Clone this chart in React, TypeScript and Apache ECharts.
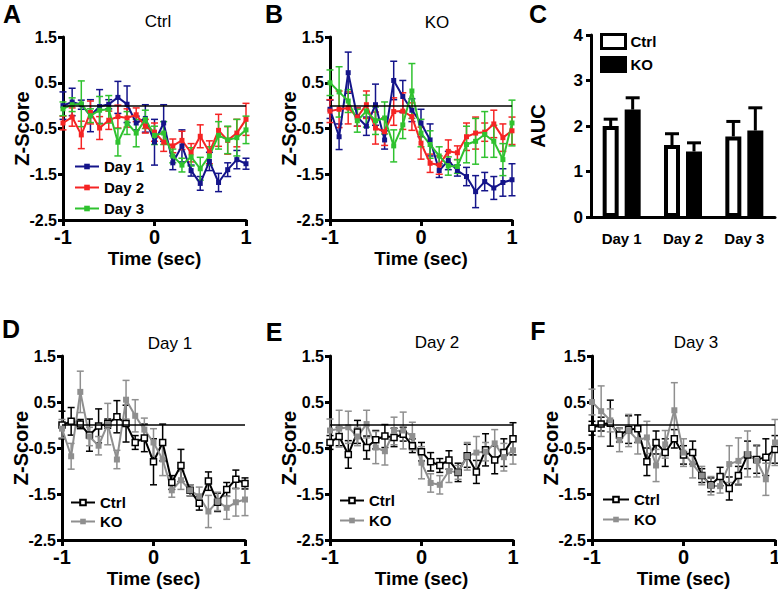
import React, { useEffect, useRef } from "react";
import * as echarts from "echarts";

const TIME = [-1, -0.9, -0.8, -0.7, -0.6, -0.5, -0.4, -0.3, -0.2, -0.1, 0, 0.1, 0.2, 0.3, 0.4, 0.5, 0.6, 0.7, 0.8, 0.9, 1];
const Y_TICKS = [-2.5, -1.5, -0.5, 0.5, 1.5];
const DAYS = ["Day 1", "Day 2", "Day 3"];

const CTRL_DAY1 = [0.0, 0.08, 0.02, -0.22, -0.02, 0.03, 0.18, 0.03, -0.38, -0.28, -0.8, -0.38, -1.25, -0.88, -1.42, -1.7, -1.22, -1.68, -1.4, -1.18, -1.27];
const CTRL_DAY1_ERR = [0.3, 0.3, 0.1, 0.35, 0.37, 0.1, 0.35, 0.4, 0.15, 0.3, 0.5, 0.4, 0.15, 0.35, 0.12, 0.15, 0.2, 0.2, 0.15, 0.2, 0.12];
const KO_DAY1 = [-0.08, -0.68, 0.72, -0.25, -0.45, 0.02, -0.75, 0.55, 0.2, -0.1, -0.38, -0.75, -1.42, -1.2, -1.42, -1.55, -1.88, -1.66, -1.8, -1.68, -1.62];
const KO_DAY1_ERR = [0.2, 0.28, 0.45, 0.2, 0.2, 0.45, 0.2, 0.42, 0.35, 0.25, 0.3, 0.35, 0.15, 0.2, 0.12, 0.2, 0.35, 0.2, 0.25, 0.3, 0.35];
const CTRL_DAY2 = [-0.38, -0.25, -0.64, -0.15, -0.49, -0.32, -0.24, -0.27, -0.2, -0.45, -0.58, -0.8, -0.88, -0.76, -1.03, -0.67, -1.02, -0.54, -0.76, -0.6, -0.3];
const CTRL_DAY2_ERR = [0.15, 0.2, 0.3, 0.25, 0.25, 0.2, 0.25, 0.2, 0.15, 0.15, 0.2, 0.2, 0.15, 0.2, 0.2, 0.25, 0.25, 0.35, 0.3, 0.3, 0.35];
const KO_DAY2 = [-0.12, -0.08, -0.05, -0.25, 0.02, -0.49, -0.57, -0.13, -0.12, -0.24, -0.82, -1.26, -1.3, -1.0, -1.03, -0.68, -0.6, -0.58, -0.4, -0.7, -0.55];
const KO_DAY2_ERR = [0.25, 0.4, 0.35, 0.2, 0.3, 0.35, 0.3, 0.3, 0.4, 0.3, 0.35, 0.2, 0.2, 0.25, 0.15, 0.3, 0.35, 0.2, 0.3, 0.3, 0.3];
const CTRL_DAY3 = [-0.07, 0.02, 0.04, -0.22, -0.1, -0.08, -0.8, -0.38, -0.6, -0.3, -0.65, -0.6, -1.1, -1.3, -1.12, -1.38, -1.1, -0.65, -0.75, -0.7, -0.53];
const CTRL_DAY3_ERR = [0.15, 0.15, 0.5, 0.15, 0.3, 0.3, 0.3, 0.25, 0.3, 0.2, 0.2, 0.25, 0.15, 0.15, 0.2, 0.25, 0.2, 0.3, 0.3, 0.4, 0.3];
const KO_DAY3 = [0.5, 0.3, 0.1, -0.33, -0.12, -0.33, -0.27, -0.88, -0.42, 0.32, -0.6, -0.85, -1.1, -1.32, -1.33, -0.85, -0.78, -0.63, -0.78, -1.18, -0.38];
const KO_DAY3_ERR = [0.28, 0.55, 0.25, 0.25, 0.35, 0.3, 0.35, 0.35, 0.3, 0.6, 0.3, 0.3, 0.2, 0.2, 0.15, 0.4, 0.5, 0.5, 0.35, 0.35, 0.5];

const AUC_CTRL = [2.0, 1.58, 1.77];
const AUC_CTRL_ERR = [0.15, 0.25, 0.33];
const AUC_KO = [2.36, 1.44, 1.9];
const AUC_KO_ERR = [0.26, 0.19, 0.5];

const BLUE = "#14148a";
const RED = "#f52424";
const GREEN = "#2fc22f";
const GRAY = "#8f8f8f";
const FONT = "Liberation Sans";

function zX(gi: number) {
  return {
    type: "value", gridIndex: gi, min: -1, max: 1, interval: 1,
    name: "Time (sec)", nameLocation: "middle", nameGap: 29, nameMoveOverlap: false,
    nameTextStyle: { fontSize: 19, fontWeight: "bold", color: "#000", fontFamily: FONT },
    axisLine: { show: true, onZero: false, lineStyle: { color: "#000", width: 3 } },
    axisTick: { show: true, length: 6, lineStyle: { color: "#000", width: 3 } },
    axisLabel: { fontSize: 20, fontWeight: "bold", color: "#000", margin: 7, fontFamily: FONT },
    splitLine: { show: false },
  };
}
function zY(gi: number) {
  return {
    type: "value", gridIndex: gi, min: -2.5, max: 1.5,
    name: "Z-Score", nameLocation: "middle", nameGap: 31, nameMoveOverlap: false,
    nameTextStyle: { fontSize: 20, fontWeight: "bold", color: "#000", fontFamily: FONT },
    axisLine: { show: true, onZero: false, lineStyle: { color: "#000", width: 3 } },
    axisTick: { show: true, customValues: Y_TICKS, length: 5, lineStyle: { color: "#000", width: 3 } },
    axisLabel: { customValues: Y_TICKS, fontSize: 16, fontWeight: "bold", color: "#000", margin: 6, fontFamily: FONT },
    splitLine: { show: false },
  };
}

function errSeries(gi: number, vals: number[], errs: number[], color: string) {
  return {
    type: "custom", xAxisIndex: gi, yAxisIndex: gi, silent: true,
    data: TIME.map((t, i) => [t, vals[i], errs[i]]),
    encode: { x: 0, y: 1 },
    renderItem: (_p: any, api: any) => {
      const x = api.value(0), y = api.value(1), e = api.value(2);
      const top = api.coord([x, y + e]);
      const bot = api.coord([x, y - e]);
      const w = 3.5;
      const st = { stroke: color, lineWidth: 1.5 };
      return {
        type: "group",
        children: [
          { type: "line", shape: { x1: top[0], y1: top[1], x2: bot[0], y2: bot[1] }, style: st },
          { type: "line", shape: { x1: top[0] - w, y1: top[1], x2: top[0] + w, y2: top[1] }, style: st },
          { type: "line", shape: { x1: bot[0] - w, y1: bot[1], x2: bot[0] + w, y2: bot[1] }, style: st },
        ],
      };
    },
  };
}

function lineSeries(name: string, gi: number, vals: number[], color: string, fill: string, zero: boolean, size = 5) {
  const s: any = {
    type: "line", name, xAxisIndex: gi, yAxisIndex: gi,
    data: TIME.map((t, i) => [t, vals[i]]),
    symbol: "rect", symbolSize: size,
    lineStyle: { color, width: 2 },
    itemStyle: { color: fill, borderColor: color, borderWidth: fill === color ? 0 : 1.5 },
    emphasis: { disabled: true },
  };
  if (zero) {
    s.markLine = {
      silent: true, symbol: ["none", "none"], label: { show: false },
      lineStyle: { color: "#000", width: 1.5, type: "solid" },
      data: [{ yAxis: 0 }],
    };
  }
  return s;
}

function barErr(vals: number[], errs: number[], side: number) {
  return {
    type: "custom", xAxisIndex: 2, yAxisIndex: 2, silent: true,
    data: DAYS.map((_d, i) => [i, vals[i], errs[i]]),
    encode: { x: 0, y: 1 },
    renderItem: (_p: any, api: any) => {
      const i = api.value(0), v = api.value(1), e = api.value(2);
      const a = api.coord([i, v]);
      const b = api.coord([i, v + e]);
      const off = side * 11;
      const st = { stroke: "#000", lineWidth: 3 };
      return {
        type: "group",
        children: [
          { type: "line", shape: { x1: a[0] + off, y1: a[1], x2: b[0] + off, y2: b[1] }, style: st },
          { type: "line", shape: { x1: b[0] + off - 7, y1: b[1], x2: b[0] + off + 7, y2: b[1] }, style: st },
        ],
      };
    },
  };
}

function legendFor(names: string[], left: number, top: number, itemWidth: number, itemHeight: number, gap: number, extra: any = {}) {
  return {
    data: names, formatter: (n: string) => n.split("|")[0],
    orient: "vertical", left, top, itemWidth, itemHeight, itemGap: gap, padding: 0,
    selectedMode: false,
    textStyle: { fontSize: 15, fontWeight: "bold", color: "#000", fontFamily: FONT },
    ...extra,
  };
}

function txt(text: string, x: number, y: number, size: number, weight: string) {
  return {
    type: "text", x, y, silent: true,
    style: {
      text, font: `${weight} ${size}px "${FONT}"`, fill: "#000",
      align: "center", verticalAlign: "middle", textAlign: "center", textVerticalAlign: "middle",
    },
  };
}

export default function App() {
  const ref = useRef<HTMLDivElement>(null);
  useEffect(() => {
    document.body.style.margin = "0";
    if (!ref.current) return;
    const chart = echarts.init(ref.current, undefined, { renderer: "svg" });
    const g = (left: number, top: number, width: number, height: number) => ({
      left, top, width, height, containLabel: false, outerBoundsMode: "none",
    });
    const option: any = {
      animation: false,
      textStyle: { fontFamily: FONT },
      grid: [
        g(63, 37, 183, 183),
        g(330, 37, 182, 183),
        g(591, 35, 184, 182),
        g(62, 356, 183, 184),
        g(330, 356, 183, 184),
        g(592, 356, 183, 184),
      ],
      xAxis: [
        zX(0), zX(1),
        {
          type: "category", gridIndex: 2, data: DAYS,
          axisLine: { show: true, lineStyle: { color: "#000", width: 3 } },
          axisTick: { show: false },
          axisLabel: { fontSize: 15, fontWeight: "bold", color: "#000", margin: 14, fontFamily: FONT },
          splitLine: { show: false },
        },
        zX(3), zX(4), zX(5),
      ],
      yAxis: [
        zY(0), zY(1),
        {
          type: "value", gridIndex: 2, min: 0, max: 4, interval: 1,
          name: "AUC", nameLocation: "middle", nameGap: 43, nameMoveOverlap: false,
          nameTextStyle: { fontSize: 20, fontWeight: "bold", color: "#000", fontFamily: FONT },
          axisLine: { show: true, lineStyle: { color: "#000", width: 3 } },
          axisTick: { show: true, length: 5, lineStyle: { color: "#000", width: 3 } },
          axisLabel: { fontSize: 17, fontWeight: "bold", color: "#000", margin: 8, fontFamily: FONT },
          splitLine: { show: false },
        },
        zY(3), zY(4), zY(5),
      ],
      legend: [
        legendFor(["Day 1|A", "Day 2|A", "Day 3|A"], 74, 159, 24, 7, 6),
        legendFor(["Ctrl|C", "KO|C"], 600, 33, 24, 14, 6, { icon: "rect", itemStyle: { borderWidth: 3 } }),
        legendFor(["Ctrl|D", "KO|D"], 70, 495, 24, 7, 4),
        legendFor(["Ctrl|E", "KO|E"], 339, 493, 24, 7, 5),
        legendFor(["Ctrl|F", "KO|F"], 602, 492, 26, 7, 5),
      ],
      graphic: [
        txt("A", 12, 14, 25, "bold"),
        txt("B", 274, 14, 25, "bold"),
        txt("C", 538, 14, 25, "bold"),
        txt("D", 11, 329, 25, "bold"),
        txt("E", 274, 332, 25, "bold"),
        txt("F", 538, 331, 25, "bold"),
        txt("Ctrl", 158, 21, 17, "normal"),
        txt("KO", 437, 22, 17, "normal"),
        txt("Day 1", 170, 343, 17, "normal"),
        txt("Day 2", 437, 342, 17, "normal"),
        txt("Day 3", 696, 342, 17, "normal"),
      ],
      series: [
        errSeries(0, CTRL_DAY1, CTRL_DAY1_ERR, BLUE),
        lineSeries("Day 1|A", 0, CTRL_DAY1, BLUE, BLUE, true),
        errSeries(0, CTRL_DAY2, CTRL_DAY2_ERR, RED),
        lineSeries("Day 2|A", 0, CTRL_DAY2, RED, RED, false),
        errSeries(0, CTRL_DAY3, CTRL_DAY3_ERR, GREEN),
        lineSeries("Day 3|A", 0, CTRL_DAY3, GREEN, GREEN, false),
        errSeries(1, KO_DAY1, KO_DAY1_ERR, BLUE),
        lineSeries("Day 1|B", 1, KO_DAY1, BLUE, BLUE, true),
        errSeries(1, KO_DAY2, KO_DAY2_ERR, RED),
        lineSeries("Day 2|B", 1, KO_DAY2, RED, RED, false),
        errSeries(1, KO_DAY3, KO_DAY3_ERR, GREEN),
        lineSeries("Day 3|B", 1, KO_DAY3, GREEN, GREEN, false),
        {
          type: "bar", name: "Ctrl|C", xAxisIndex: 2, yAxisIndex: 2, data: AUC_CTRL,
          barWidth: 16, barGap: "37.5%",
          itemStyle: { color: "#fff", borderColor: "#000", borderWidth: 4 },
          emphasis: { disabled: true },
        },
        {
          type: "bar", name: "KO|C", xAxisIndex: 2, yAxisIndex: 2, data: AUC_KO,
          barWidth: 16, barGap: "37.5%",
          itemStyle: { color: "#000", borderColor: "#000", borderWidth: 4 },
          emphasis: { disabled: true },
        },
        barErr(AUC_CTRL, AUC_CTRL_ERR, -1),
        barErr(AUC_KO, AUC_KO_ERR, 1),
        errSeries(3, CTRL_DAY1, CTRL_DAY1_ERR, "#000"),
        lineSeries("Ctrl|D", 3, CTRL_DAY1, "#000", "#fff", true, 6),
        errSeries(3, KO_DAY1, KO_DAY1_ERR, GRAY),
        lineSeries("KO|D", 3, KO_DAY1, GRAY, GRAY, false, 6),
        errSeries(4, CTRL_DAY2, CTRL_DAY2_ERR, "#000"),
        lineSeries("Ctrl|E", 4, CTRL_DAY2, "#000", "#fff", true, 6),
        errSeries(4, KO_DAY2, KO_DAY2_ERR, GRAY),
        lineSeries("KO|E", 4, KO_DAY2, GRAY, GRAY, false, 6),
        errSeries(5, CTRL_DAY3, CTRL_DAY3_ERR, "#000"),
        lineSeries("Ctrl|F", 5, CTRL_DAY3, "#000", "#fff", true, 6),
        errSeries(5, KO_DAY3, KO_DAY3_ERR, GRAY),
        lineSeries("KO|F", 5, KO_DAY3, GRAY, GRAY, false, 6),
      ],
    };
    chart.setOption(option);
    return () => chart.dispose();
  }, []);
  return <div ref={ref} style={{ width: 778, height: 592 }} />;
}
